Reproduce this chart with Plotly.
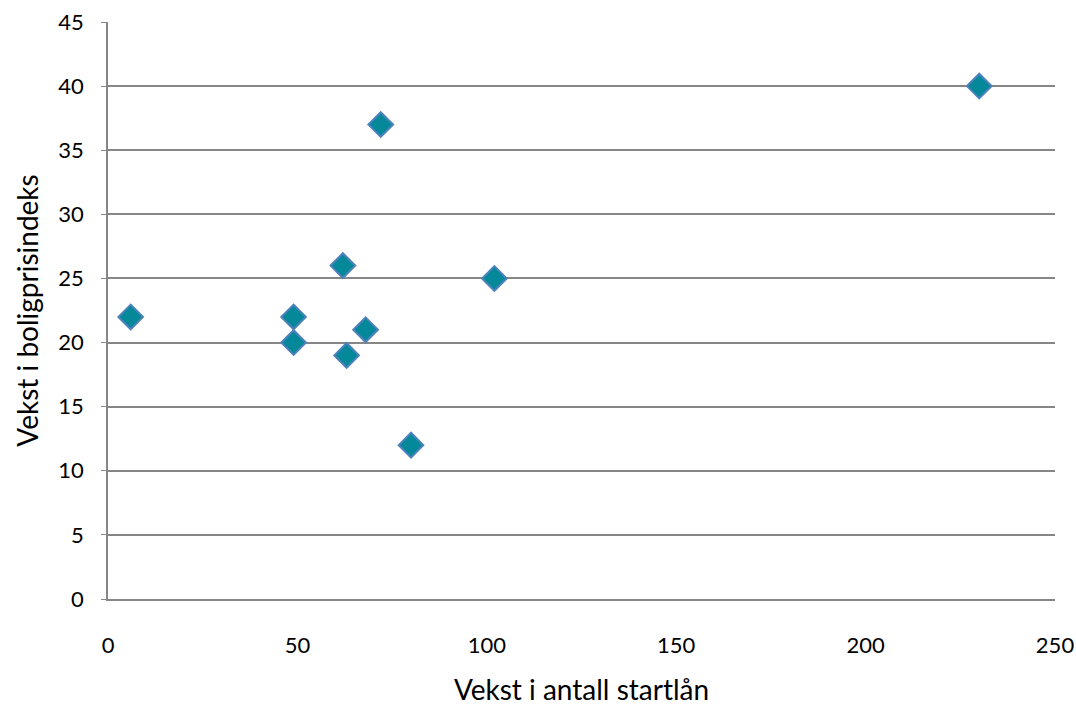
import plotly.graph_objects as go

startlan_vekst = [6, 49, 49, 62, 63, 68, 72, 80, 102, 230]
boligpris_vekst = [22, 22, 20, 26, 19, 21, 37, 12, 25, 40]

x_title = "Vekst i antall startlån"
y_title = "Vekst i boligprisindeks"

fig = go.Figure()
fig.add_trace(go.Scatter(
    x=startlan_vekst, y=boligpris_vekst, mode="markers",
    marker=dict(symbol="diamond", size=19, color="#05899A",
                line=dict(color="#4F81BD", width=2)),
    showlegend=False, hoverinfo="x+y"))

font = "Lato, 'Open Sans', sans-serif"
fig.update_layout(
    width=1076, height=706,
    margin=dict(l=108, r=21, t=22, b=107),
    paper_bgcolor="white", plot_bgcolor="white",
    font=dict(family=font, size=22, color="black"),
    xaxis=dict(range=[0, 250], dtick=50, showgrid=False, zeroline=False,
               automargin=False,
               showline=True, linecolor="#868686", linewidth=1.5,
               ticks="outside", ticklen=0, ticklabelstandoff=26,
               tickfont=dict(size=22),
               title=dict(text=x_title, font=dict(size=28), standoff=32)),
    yaxis=dict(range=[0, 45], dtick=5, showgrid=True, gridcolor="#868686",
               automargin=False,
               gridwidth=1.5, zeroline=False, showline=True,
               linecolor="#868686", linewidth=1.5, ticks="outside",
               ticklen=5, tickcolor="#868686", ticklabelstandoff=13,
               tickfont=dict(size=22),
               title=dict(text=y_title, font=dict(size=28), standoff=12)),
)
fig.write_html("out.html")
